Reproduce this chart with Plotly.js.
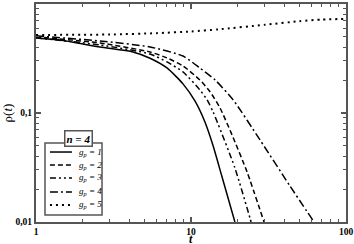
<!DOCTYPE html>
<html><head><meta charset="utf-8">
<script src="https://cdn.plot.ly/plotly-3.0.1.min.js"></script>
<style>html,body{margin:0;padding:0;background:#fff}#c{width:354px;height:244px}</style>
</head><body><div id="c"></div>
<script>
// g_p = 1 (solid)
const t1 = [1, 1.43, 2.59, 4.22, 5.44, 7.0, 8.88, 10.6, 12.3, 13.9, 15.8, 19.2];
const r1 = [0.488, 0.467, 0.403, 0.363, 0.318, 0.259, 0.185, 0.129, 0.0827, 0.0498, 0.0264, 0.01];
// g_p = 2 (dashed)
const t2 = [1, 2.59, 5.44, 7.0, 8.88, 11.4, 13.3, 15.4, 18.4, 23.0, 29.6];
const r2 = [0.5, 0.439, 0.363, 0.32, 0.27, 0.201, 0.156, 0.111, 0.0629, 0.0288, 0.01];
// g_p = 3 (dash-dot-dot)
const t3 = [1, 2.59, 5.44, 7.0, 8.88, 11.4, 12.7, 13.9, 19.2, 24.0, 24.4];
const r3 = [0.49, 0.421, 0.348, 0.294, 0.238, 0.163, 0.132, 0.102, 0.0313, 0.0109, 0.01];
// g_p = 4 (dash-dot)
const t4 = [1, 2.59, 5.44, 8.88, 11.4, 14.3, 18.7, 27.9, 43.5, 62.2];
const r4 = [0.51, 0.458, 0.403, 0.333, 0.259, 0.201, 0.132, 0.0565, 0.0214, 0.01];
// g_p = 5 (dotted)
const t5 = [1, 3, 6, 10, 15, 30, 50, 70, 100];
const r5 = [0.52, 0.525, 0.54, 0.56, 0.585, 0.645, 0.695, 0.72, 0.73];

const names = ['<i>g<sub>p</sub> = 1</i>', '<i>g<sub>p</sub> = 2</i>', '<i>g<sub>p</sub> = 3</i>', '<i>g<sub>p</sub> = 4</i>', '<i>g<sub>p</sub> = 5</i>'];
const xTickVals = [1, 10, 100];
const xTickText = ['1', '10', '100'];
const yTickVals = [0.01, 0.1, 1];
const yTickText = ['0,01', '0,1', '1'];

const ts = [t1, t2, t3, t4, t5];
const rs = [r1, r2, r3, r4, r5];
const dashes = ['solid', '5px,3px', '6px,3px,2px,3px,2px,3px', '8px,3px,2px,3px', '2px,4px'];
const widths = [1.5, 1.5, 1.5, 1.5, 2];

const traces = ts.map((t, i) => ({
  x: t, y: rs[i], name: names[i], type: 'scatter', mode: 'lines', showlegend: false,
  line: {color: '#000', width: widths[i], dash: dashes[i], shape: 'spline', smoothing: 0.6}
}));

// manual compact legend (paper coordinates)
const legX0 = 0.045, legX1 = 0.116, legTextX = 0.133;
const legY = [0.321, 0.261, 0.202, 0.138, 0.078];
const shapes = [{
  type: 'rect', xref: 'paper', yref: 'paper', x0: 0.029, x1: 0.213, y0: 0.032, y1: 0.362,
  line: {color: '#555', width: 1.5}, fillcolor: '#fff', layer: 'above'
}];
const annotations = [{
  xref: 'paper', yref: 'paper', x: 0.137, y: 0.382, xanchor: 'center', yanchor: 'middle',
  text: '<b><i>n = 4</i></b>', showarrow: false,
  font: {family: 'Liberation Serif', size: 11, color: '#000'},
  bordercolor: '#555', borderwidth: 1.5, borderpad: 1, bgcolor: '#fff'
}, {
  xref: 'paper', yref: 'paper', x: 0.5, y: 0, xanchor: 'center', yanchor: 'bottom', yshift: -25,
  text: '<b><i>t</i></b>', showarrow: false, borderpad: 0,
  font: {family: 'Liberation Serif', size: 12, color: '#000'}
}];
names.forEach((n, i) => {
  shapes.push({type: 'line', xref: 'paper', yref: 'paper', x0: legX0, x1: legX1, y0: legY[i], y1: legY[i],
    line: {color: '#000', width: widths[i], dash: dashes[i]}, layer: 'above'});
  annotations.push({xref: 'paper', yref: 'paper', x: legTextX, y: legY[i], xanchor: 'left', yanchor: 'middle',
    text: n, showarrow: false, font: {family: 'Liberation Serif', size: 9, color: '#000'}});
});

const tickFont = {family: 'Liberation Serif', size: 9.5, color: '#000', weight: 'bold'};
const axisCommon = {
  type: 'log', showgrid: false, zeroline: false, showline: true, linecolor: '#555', linewidth: 2,
  mirror: 'allticks', ticks: 'inside', ticklen: 5, tickcolor: '#555', tickwidth: 1.5,
  tickfont: tickFont, tickmode: 'array',
  minor: {ticks: 'inside', ticklen: 3, tickcolor: '#555', tickwidth: 1, dtick: 'D1', showgrid: false}
};

const layout = {
  width: 354, height: 244,
  margin: {l: 36, r: 8, t: 4, b: 22},
  paper_bgcolor: '#fff', plot_bgcolor: '#fff',
  showlegend: false,
  xaxis: Object.assign({}, axisCommon, {
    range: [0, 2], tickvals: xTickVals, ticktext: xTickText
  }),
  yaxis: Object.assign({}, axisCommon, {
    range: [-2, 0], tickvals: yTickVals, ticktext: yTickText,
    title: {text: 'ρ(<i>t</i>)', font: {family: 'Liberation Serif', size: 13, color: '#000'}, standoff: 2}
  }),
  shapes: shapes,
  annotations: annotations
};

Plotly.newPlot('c', traces, layout, {staticPlot: true, displayModeBar: false});
</script>
</body></html>
